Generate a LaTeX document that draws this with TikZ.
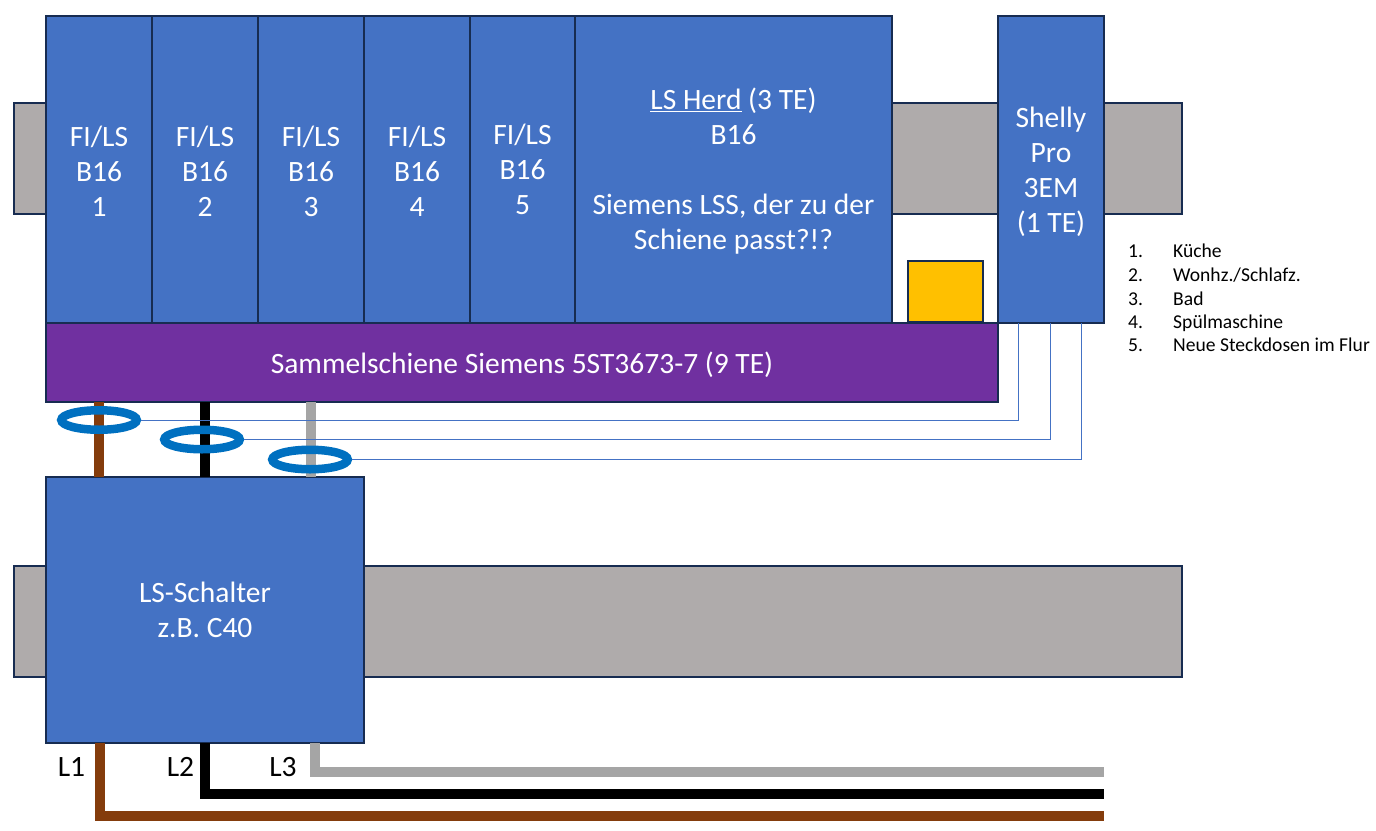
\documentclass[tikz,border=0pt]{standalone}
\usepackage{fontspec}
\setmainfont{Carlito}
\definecolor{cellblue}{HTML}{4472C4}
\definecolor{edge}{HTML}{172C51}
\definecolor{railgray}{HTML}{AFABAB}
\definecolor{busviolet}{HTML}{7030A0}
\definecolor{amber}{HTML}{FFC000}
\definecolor{ringblue}{HTML}{0070C0}
\definecolor{wirebrown}{HTML}{843C0C}
\definecolor{wiregray}{HTML}{A5A5A5}
\newcommand{\firstline}[1]{\rule{0pt}{#1pt}}
\tikzset{
  boxbase/.style={draw=edge,line width=2pt,inner sep=0pt,outer sep=0pt,anchor=north west,align=center,text=white,
    font=\fontsize{29.5}{35}\selectfont},
  rail/.style={boxbase,fill=railgray},
  cell/.style={boxbase,fill=cellblue},
  fuse/.style={cell,minimum width=106pt,minimum height=307pt},
  bus/.style={boxbase,fill=busviolet},
  marker/.style={boxbase,fill=amber},
  phase/.style={line width=10pt,line join=miter},
  ring/.style={draw=ringblue,line width=8.5pt,ellipse,minimum width=75.5pt,minimum height=19.5pt,inner sep=0pt,outer sep=4.25pt},
  sense/.style={draw=cellblue,line width=0.9pt},
  lbl/.style={font=\fontsize{29.5}{35}\selectfont,text=black,inner sep=0pt},
  listitem/.style={font=\fontsize{19.6}{21}\selectfont,text=black,inner sep=0pt,anchor=base west},
}
\usetikzlibrary{shapes.geometric}
\begin{document}
\begin{tikzpicture}[x=1pt,y=-1pt]
\useasboundingbox (0,0) rectangle (1376,830);
% rails
\node[rail,minimum width=1168pt,minimum height=111pt] (railtop) at (14,103) {};
\node[rail,minimum width=1168pt,minimum height=111pt] (railbot) at (14,566) {};
% busbar and breaker
\node[bus,minimum width=952pt,minimum height=79pt] (bus) at (46,323) {\firstline{26}Sammelschiene Siemens 5ST3673-7 (9 TE)};
\node[cell,minimum width=318pt,minimum height=266pt] (ls) at (46,477) {LS-Schalter\\z.B. C40};
% wires between busbar and breaker
\coordinate (bb1) at (99,402); \coordinate (ls1) at (99,477);
\coordinate (bb2) at (205,402); \coordinate (ls2) at (205,477);
\coordinate (bb3) at (311,402); \coordinate (ls3) at (311,477);
\draw[phase,wirebrown] (bb1) -- (ls1);
\draw[phase,black] (bb2) -- (ls2);
\draw[phase,wiregray] (bb3) -- (ls3);
% outgoing wires
\coordinate (o1) at (100,743); \coordinate (e1) at (1104,816);
\coordinate (o2) at (205,743); \coordinate (e2) at (1104,794);
\coordinate (o3) at (314.5,743); \coordinate (e3) at (1104,771.5);
\draw[phase,wirebrown] (o1) |- (e1);
\draw[phase,black] (o2) |- (e2);
\draw[phase,wiregray] (o3) |- (e3);
% fuses
\node[fuse] (f1) at (46,16) {\firstline{23.5}FI/LS\\B16\\1};
\node[fuse] (f2) at (152,16) {\firstline{23.5}FI/LS\\B16\\2};
\node[fuse] (f3) at (258,16) {\firstline{23.5}FI/LS\\B16\\3};
\node[fuse] (f4) at (364,16) {\firstline{23.5}FI/LS\\B16\\4};
\node[fuse,minimum width=105pt] (f5) at (470,16) {FI/LS\\B16\\5};
\node[cell,minimum width=317pt,minimum height=307pt] (herd) at (575,16) {\firstline{25}\underline{LS Herd} (3 TE)\\B16\\[35pt]Siemens LSS, der zu der\\Schiene passt?!?};
\node[fuse] (shelly) at (998,16) {\firstline{26}Shelly\\Pro\\3EM\\(1 TE)};
\node[marker,minimum width=75pt,minimum height=61pt] (yellow) at (908,261) {};
% sense rings
\coordinate (s1) at (1018.3,323); \coordinate (s2) at (1050.7,323); \coordinate (s3) at (1081.7,323);
\node[ring] (r1) at (99,420) {};
\node[ring] (r2) at (202,439.5) {};
\node[ring] (r3) at (310,459.5) {};
\draw[sense] (r1.east) -| (s1);
\draw[sense] (r2.east) -| (s2);
\draw[sense] (r3.east) -| (s3);
% phase labels
\node[lbl] (L1) at (71.5,767) {L1};
\node[lbl] (L2) at (180.5,767) {L2};
\node[lbl] (L3) at (283,767) {L3};
% list
\node[listitem] (n1) at (1128,257) {1.}; \node[listitem] (t1) at (1173,257) {Küche};
\node[listitem] (n2) at (1128,281) {2.}; \node[listitem] (t2) at (1173,281) {Wonhz./Schlafz.};
\node[listitem] (n3) at (1128,305) {3.}; \node[listitem] (t3) at (1173,305) {Bad};
\node[listitem] (n4) at (1128,328) {4.}; \node[listitem] (t4) at (1173,328) {Spülmaschine};
\node[listitem] (n5) at (1128,351.5) {5.}; \node[listitem] (t5) at (1173,351.5) {Neue Steckdosen im Flur};
\end{tikzpicture}
\end{document}
